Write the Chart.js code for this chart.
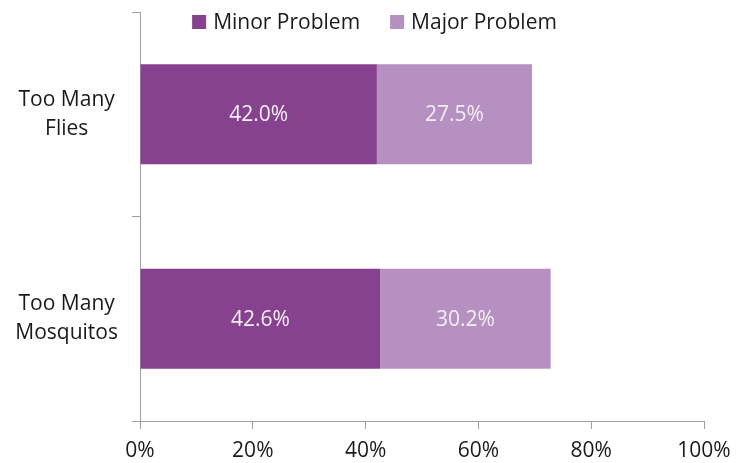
<!DOCTYPE html>
<html>
<head>
<meta charset="utf-8">
<script src="https://cdn.jsdelivr.net/npm/chart.js@4/dist/chart.umd.min.js"></script>
<style>
  html, body { margin: 0; padding: 0; background: #fff; }
  #wrap { width: 749px; height: 463px; }
</style>
</head>
<body>
<div id="wrap"><canvas id="c"></canvas></div>
<script>
// data
const categories = [['Too Many', 'Flies'], ['Too Many', 'Mosquitos']];
const seriesNames = ['Minor Problem', 'Major Problem'];
const minorValues = [42.0, 42.6];
const majorValues = [27.5, 30.2];
const xTicks = [0, 20, 40, 60, 80, 100];

const colors = ['#86428e', '#b590c0'];
const FONT = '"Open Sans", "Liberation Sans", sans-serif';

// legend drawn over the top of the plot, centred on the whole canvas
const topLegend = {
    id: 'topLegend',
    afterDraw(chart) {
        const ctx = chart.ctx;
        ctx.save();
        ctx.font = '21px ' + FONT;
        ctx.textBaseline = 'middle';
        const box = 14, gap = 7, itemGap = 30;
        const widths = chart.data.datasets.map(ds => ctx.measureText(ds.label).width);
        let total = widths.reduce((a, b) => a + b, 0) + chart.data.datasets.length * (box + gap) + itemGap;
        let x = chart.width / 2 - total / 2;
        const y = 22;
        chart.data.datasets.forEach((ds, i) => {
            ctx.fillStyle = ds.backgroundColor;
            ctx.fillRect(x, y - box / 2, box, box);
            x += box + gap;
            ctx.fillStyle = '#1a1a1a';
            ctx.fillText(ds.label, x, y + 1);
            x += widths[i] + itemGap;
        });
        ctx.restore();
    }
};

// value labels in the middle of each segment
const valueLabels = {
    id: 'valueLabels',
    afterDatasetsDraw(chart) {
        const ctx = chart.ctx;
        ctx.save();
        ctx.font = '21px ' + FONT;
        ctx.fillStyle = '#f4eef5';
        ctx.textAlign = 'center';
        ctx.textBaseline = 'middle';
        chart.data.datasets.forEach((ds, di) => {
            chart.getDatasetMeta(di).data.forEach((bar, i) => {
                const p = bar.getCenterPoint();
                ctx.fillText(ds.data[i].toFixed(1) + '%', p.x, p.y + 1);
            });
        });
        ctx.restore();
    }
};

new Chart(document.getElementById('c'), {
    type: 'bar',
    data: {
        labels: categories,
        datasets: [
            { label: seriesNames[0], data: minorValues, backgroundColor: colors[0] },
            { label: seriesNames[1], data: majorValues, backgroundColor: colors[1] }
        ]
    },
    options: {
        indexAxis: 'y',
        responsive: true,
        maintainAspectRatio: false,
        animation: false,
        layout: { padding: { top: 12, right: 45, left: 0, bottom: 0 } },
        datasets: { bar: { categoryPercentage: 1, barPercentage: 0.49 } },
        plugins: {
            legend: { display: false },
            tooltip: { enabled: false }
        },
        scales: {
            x: {
                stacked: true,
                min: 0,
                max: 100,
                afterBuildTicks(scale) {
                    scale.ticks = xTicks.map(v => ({ value: v }));
                },
                afterFit(scale) { scale.height = 42; },
                border: { color: '#a0a0a0', width: 1 },
                grid: { drawOnChartArea: false, drawTicks: true, tickLength: 8, color: '#a0a0a0' },
                ticks: {
                    padding: 9,
                    color: '#1a1a1a',
                    font: { family: FONT, size: 21 },
                    maxRotation: 0,
                    callback: v => v + '%'
                }
            },
            y: {
                stacked: true,
                afterFit(scale) {
                    scale.width = 140;
                    scale.paddingTop = 0;
                    scale.paddingBottom = 0;
                },
                border: { color: '#a0a0a0', width: 1 },
                grid: { offset: true, drawOnChartArea: false, drawTicks: true, tickLength: 8, color: '#a0a0a0' },
                ticks: {
                    padding: 14,
                    crossAlign: 'center',
                    color: '#1a1a1a',
                    font: { family: FONT, size: 21, lineHeight: 1.4 }
                }
            }
        }
    },
    plugins: [valueLabels, topLegend]
});
</script>
</body>
</html>
